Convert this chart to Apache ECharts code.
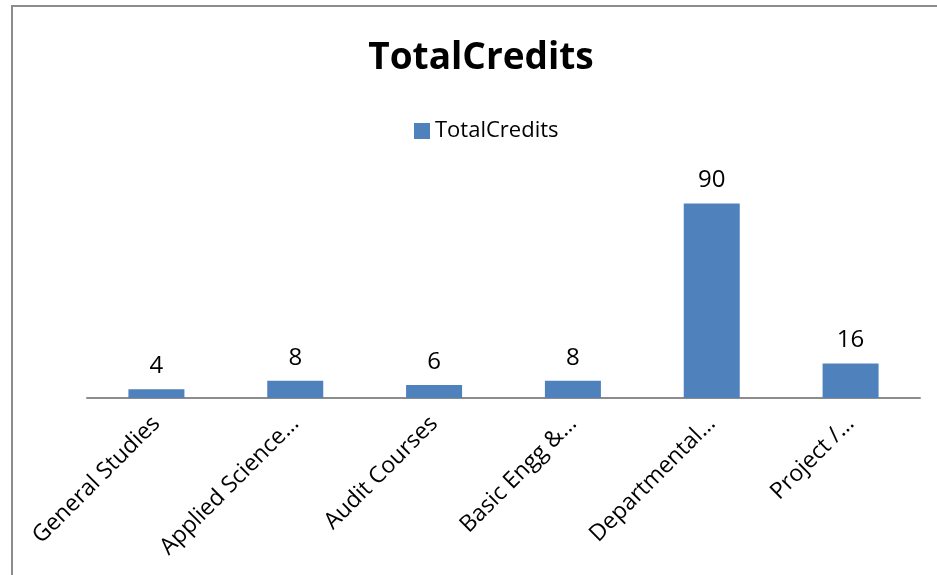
<!DOCTYPE html>
<html>
<head>
<meta charset="utf-8">
<script src="https://cdn.jsdelivr.net/npm/echarts@6/dist/echarts.min.js"></script>
<style>
  html, body { margin: 0; padding: 0; background: #fff; }
  #main { width: 937px; height: 575px; }
</style>
</head>
<body>
<div id="main"></div>
<script>
// 数据
const categories = ['General Studies', 'Applied Science…', 'Audit Courses', 'Basic Engg &…', 'Departmental…', 'Project /…']
const totalCredits = [4, 8, 6, 8, 90, 16]
const seriesName = 'TotalCredits'

const chart = echarts.init(document.getElementById('main'))
const fontFam = 'Open Sans, Noto Sans, sans-serif'
let option = {
    backgroundColor: '#fff',
    animation: false,
    title: {
        text: 'TotalCredits',
        left: 476,
        textAlign: 'center',
        top: 35,
        textStyle: {
            fontFamily: fontFam,
            fontSize: 37,
            fontWeight: 'bold',
            color: '#000'
        }
    },
    legend: {
        data: [seriesName],
        left: 409,
        top: 115,
        itemWidth: 16,
        itemHeight: 16,
        itemGap: 5,
        icon: 'rect',
        textStyle: {
            fontFamily: fontFam,
            fontSize: 22,
            color: '#000'
        }
    },
    graphic: [{
        type: 'rect',
        shape: { x: 12, y: 6, width: 960, height: 600 },
        style: { fill: 'none', stroke: '#8c8c8c', lineWidth: 2 },
        silent: true
    }],
    grid: {
        left: 87,
        right: 17,
        top: 182,
        bottom: 177
    },
    xAxis: {
        type: 'category',
        data: categories,
        axisLine: { show: true, lineStyle: { color: '#8c8c8c', width: 2 } },
        axisTick: { show: false },
        axisLabel: {
            rotate: 45,
            margin: 22,
            interval: 0,
            fontFamily: fontFam,
            fontSize: 23,
            color: '#000'
        }
    },
    yAxis: {
        type: 'value',
        min: 0,
        max: 100,
        show: false,
        splitLine: { show: false }
    },
    series: [{
        name: seriesName,
        type: 'bar',
        data: totalCredits,
        barWidth: 56,
        itemStyle: { color: '#4f81bd' },
        label: {
            show: true,
            position: 'top',
            distance: 11,
            fontFamily: fontFam,
            fontSize: 24,
            color: '#000'
        }
    }]
}
chart.setOption(option)
</script>
</body>
</html>
